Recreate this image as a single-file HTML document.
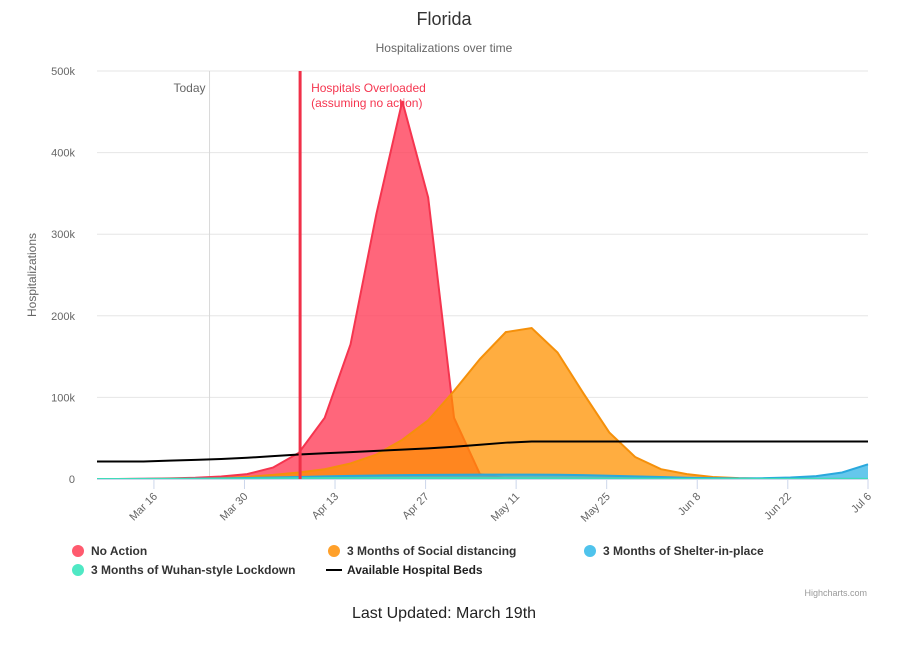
<!DOCTYPE html>
<html><head><meta charset="utf-8"><style>
body{margin:0;background:#fff;font-family:"Liberation Sans",sans-serif}
svg text{font-family:"Liberation Sans",sans-serif}
</style></head><body>
<svg id="c" width="899" height="642" xmlns="http://www.w3.org/2000/svg">
<text x="444" y="25" text-anchor="middle" font-size="18" fill="#333">Florida</text>
<text x="444" y="52" text-anchor="middle" font-size="12" fill="#666">Hospitalizations over time</text>
<g id="grid"></g><g id="series"></g><g id="axes"></g>
<text transform="translate(36,275) rotate(-90)" text-anchor="middle" font-size="12" fill="#666">Hospitalizations</text>
<g id="legend"></g>
<text x="867" y="596" text-anchor="end" font-size="9" fill="#999">Highcharts.com</text>
<text x="444" y="618" text-anchor="middle" font-size="16" fill="#222">Last Updated: March 19th</text>
</svg>
<script>
const days=[-8.8,-5.6,-1.6,2.4,6.4,10.4,14.4,18.4,22.4,26.4,30.4,34.4,38.4,42.4,46.4,50.4,54.4,58.4,62.4,66.4,70.4,74.4,78.4,82.4,86.4,90.4,94.4,98.4,102.4,106.4,110.4];
const noAction=[0,0,0.3,0.8,1.5,3,6,14,32,75,165,325,463,345,75,6,1,0,0,0,0,0,0,0,0,0,0,0,0,0,0];
const social=[0,0,0,0.2,0.5,1,2.5,5,8,12,19,30,48,72,108,147,180,185,155,105,57,27,12,6,2.5,1,0.5,0.3,0.2,0.1,0];
const shelter=[0,0,0.1,0.2,0.4,0.8,1.2,1.8,2.5,3.2,3.8,4.3,4.7,5,5.2,5.3,5.4,5.4,5.2,4.8,4,3.2,2.4,1.6,1,0.8,1,1.8,3.5,8,18];
const wuhan=[0,0,0,0.1,0.2,0.3,0.5,0.7,0.9,1,1.1,1.2,1.2,1.2,1.2,1.1,1,0.9,0.8,0.6,0.5,0.4,0.3,0.2,0.2,0.1,0.1,0.1,0.1,0.1,0.1];
const beds=[21.5,21.5,21.5,22.5,23.5,24.5,26,28,30,31.5,33,34.5,36,37.5,39.5,42,44.5,46,46,46,46,46,46,46,46,46,46,46,46,46,46];
const tickDays=[0,14,28,42,56,70,84,98,110.4];
const tickLabels=["Mar 16","Mar 30","Apr 13","Apr 27","May 11","May 25","Jun 8","Jun 22","Jul 6"];
const yTicks=[0,100,200,300,400,500];
const yLabels=["0","100k","200k","300k","400k","500k"];
const todayDay=8.6, overloadDay=22.6;
const X0=97,X1=868,Y0=479,Y1=71,D0=-8.8,D1=110.4,V1=500;
const x=d=>X0+(d-D0)/(D1-D0)*(X1-X0);
const y=v=>Y0-v/V1*(Y0-Y1);
const NS="http://www.w3.org/2000/svg";
function mk(p,t,a){const e=document.createElementNS(NS,t);for(const k in a)e.setAttribute(k,a[k]);p.appendChild(e);return e;}
const grid=document.getElementById('grid'),ser=document.getElementById('series'),ax=document.getElementById('axes'),lg=document.getElementById('legend');
yTicks.forEach((v,i)=>{
 const l=mk(grid,'line',{x1:X0,x2:X1,y1:y(v),y2:y(v),stroke:i?'#e6e6e6':'#ccd6eb'});
 
 
 const t=mk(ax,'text',{x:75,y:y(v)+4,'text-anchor':'end','font-size':11,fill:'#666'});t.textContent=yLabels[i];
 
 
});
const tl=mk(grid,'line',{x1:x(todayDay),x2:x(todayDay),y1:Y1,y2:Y0,stroke:'#d8d8d8'});


const tt=mk(grid,'text',{x:x(todayDay)-4,y:92,'text-anchor':'end','font-size':12,fill:'#666'});tt.textContent='Today';


function area(vals,fill,stroke,name){
 let d='M'+x(days[0])+','+y(0);
 vals.forEach((v,i)=>d+=' L'+x(days[i])+','+y(v));
 d+=' L'+x(days[days.length-1])+','+y(0)+'Z';
 const p=mk(ser,'path',{d:d,fill:fill,stroke:'none'});
 
 
 const l=mk(ser,'polyline',{points:vals.map((v,i)=>x(days[i])+','+y(v)).join(' '),fill:'none',stroke:stroke,'stroke-width':2});
 
 
}
area(noAction,'rgba(255,64,90,0.8)','#f5354f','no-action');
area(social,'rgba(255,145,0,0.75)','#f5900a','social-distancing');
area(shelter,'rgba(50,180,230,0.75)','#2aa8dd','shelter-in-place');
area(wuhan,'rgba(60,230,190,0.75)','#3fdcb8','wuhan-lockdown');
const bl=mk(ser,'polyline',{points:beds.map((v,i)=>x(days[i])+','+y(v)).join(' '),fill:'none',stroke:'#000','stroke-width':2});


const ol=mk(ser,'line',{x1:x(overloadDay),x2:x(overloadDay),y1:Y1,y2:Y0,stroke:'#f03048','stroke-width':3});


['Hospitals Overloaded','(assuming no action)'].forEach((s,i)=>{
 const t=mk(ser,'text',{x:x(overloadDay)+11,y:92+15*i,'font-size':12,fill:'#f5354f'});t.textContent=s;
 
 
});
mk(ax,'line',{x1:X0,x2:X1,y1:Y0+0.5,y2:Y0+0.5,stroke:'#ccd6eb'});
tickDays.forEach((d,i)=>{
 mk(ax,'line',{x1:x(d),x2:x(d),y1:Y0,y2:Y0+10,stroke:'#ccd6eb'});
 const t=mk(ax,'text',{transform:'translate('+(x(d)+4)+','+(Y0+18)+') rotate(-45)','text-anchor':'end','font-size':11,fill:'#666'});
 t.textContent=tickLabels[i];
 
 
});
const items=[['No Action','#ff5a6e',78,552,'c'],['3 Months of Social distancing','#ffa02a',334,552,'c'],['3 Months of Shelter-in-place','#4fc3ec',590,552,'c'],['3 Months of Wuhan-style Lockdown','#4fe8c4',78,571,'c'],['Available Hospital Beds','#000',334,571,'l']];
items.forEach(it=>{
 const g=mk(lg,'g',{});
 
 
 if(it[4]=='c')mk(g,'circle',{cx:it[2],cy:it[3]-1,r:6,fill:it[1]});
 else mk(g,'line',{x1:it[2]-8,x2:it[2]+8,y1:it[3]-1,y2:it[3]-1,stroke:'#000','stroke-width':2});
 const t=mk(g,'text',{x:it[2]+13,y:it[3]+3,'font-size':12,'font-weight':'bold',fill:it[4]=='l'?'#222':'#333'});t.textContent=it[0];
});
</script>
</body></html>
